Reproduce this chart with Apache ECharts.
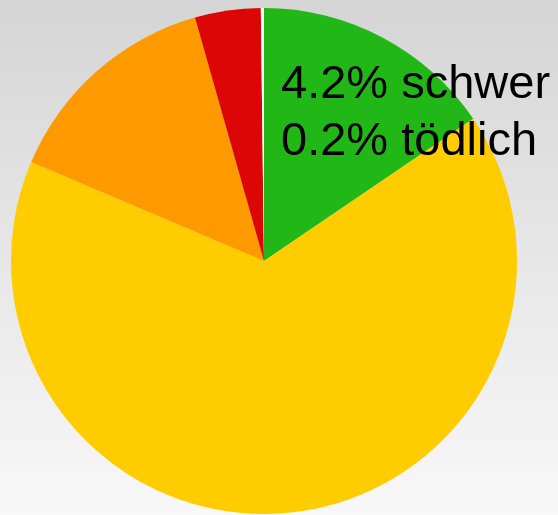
<!DOCTYPE html>
<html><head><meta charset="utf-8">
<script src="https://cdn.jsdelivr.net/npm/echarts@6/dist/echarts.min.js"></script>
<style>html,body{margin:0;padding:0;}#c{width:558px;height:515px;}</style>
</head><body><div id="c"></div>
<script>
const categories = ['leicht', 'unverletzt', 'mittel', 'schwer', 'tödlich'];
const values = [15.5, 65.9, 14.2, 4.2, 0.2];
const colors = ['#21b817', '#ffcc00', '#ff9900', '#dd0606', '#ffffff'];
const labelLines = ['4.2% schwer', '0.2% tödlich'];

const chart = echarts.init(document.getElementById('c'));
chart.setOption({
  animation: false,
  backgroundColor: {type:'linear', x:0, y:0, x2:0, y2:1, colorStops:[{offset:0,color:'#d5d5d5'},{offset:1,color:'#f8f8f8'}]},
  graphic: [{
    type: 'text', left: 281, top: 57, z: 10,
    style: { text: labelLines.join('\n'), fontSize: 47, fontFamily: '"Liberation Sans"', lineHeight: 57, fill: '#000' }
  }],
  series: [{
    type: 'pie',
    center: [264, 261],
    radius: 253,
    startAngle: 90,
    clockwise: true,
    label: { show: false },
    labelLine: { show: false },
    emphasis: { disabled: true },
    data: categories.map((n, i) => ({ name: n, value: values[i], itemStyle: { color: colors[i] } }))
  }]
});
</script></body></html>
